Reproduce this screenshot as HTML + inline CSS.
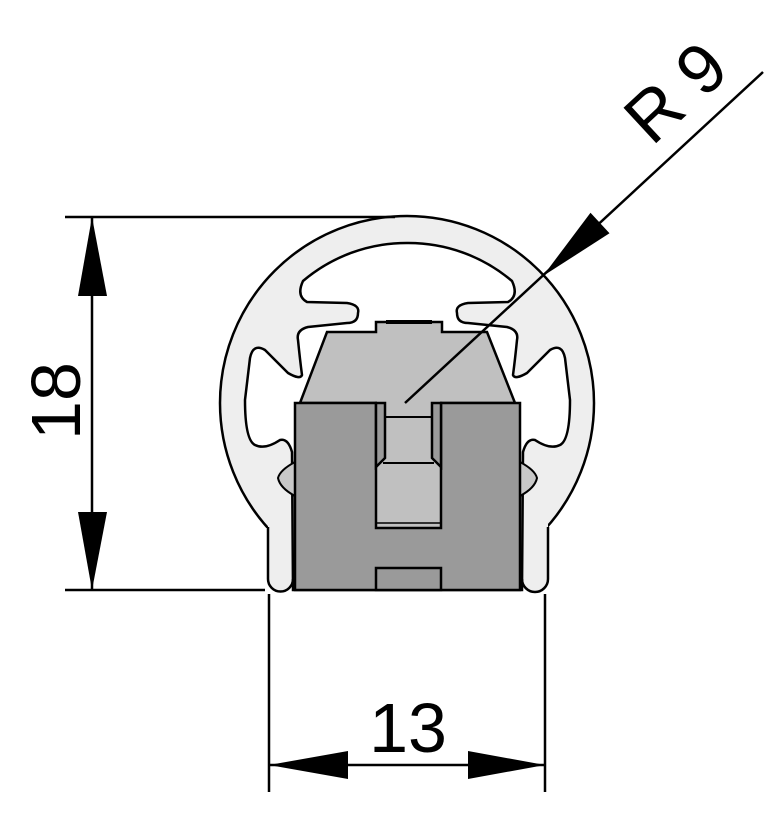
<!DOCTYPE html>
<html><head><meta charset="utf-8"><style>html,body{margin:0;padding:0;background:#fff}svg{display:block}</style></head>
<body>
<svg width="779" height="813" viewBox="0 0 779 813" xmlns="http://www.w3.org/2000/svg" font-family="Liberation Sans, Arial, sans-serif">
<circle cx="407" cy="403" r="187" fill="#eeeeee" stroke="#000" stroke-width="2.5"/>
<rect x="200" y="528" width="410" height="80" fill="#fff"/>
<rect x="268" y="520" width="25" height="60" fill="#eeeeee"/>
<rect x="522" y="520" width="26" height="60" fill="#eeeeee"/>
<circle cx="280.5" cy="579" r="12.5" fill="#eeeeee"/>
<circle cx="535" cy="579" r="13" fill="#eeeeee"/>
<path d="M 407,243 A 160 160 0 0 0 303,281 Q 296,296 307,302 L 347,303 Q 360,305 358,313 Q 358,323 347,323 L 308,327 Q 296,330 298,340 Q 300,360 302,375 Q 300,380 288,373 L 265,350 Q 253,343 250,358 L 245,400 Q 245,440 255,445 Q 265,450 280,440 Q 288,438 292,452 L 293,590 L 522,590 L 523,452 Q 527,438 535,440 Q 550,450 560,445 Q 570,440 570,400 L 565,358 Q 562,343 550,350 L 527,373 Q 515,380 513,375 Q 515,360 517,340 Q 519,330 507,327 L 468,323 Q 457,323 457,313 Q 455,305 468,303 L 508,302 Q 519,296 512,281 A 160 160 0 0 0 407,243 Z" fill="#fff" stroke="#000" stroke-width="2.5"/>
<path d="M268,527 L268,579 A12.5 12.5 0 0 0 293,579" fill="none" stroke="#000" stroke-width="2.5"/>
<path d="M522,579 A13 13 0 0 0 548,579 L548,527" fill="none" stroke="#000" stroke-width="2.5"/>
<path d="M295,462 Q 280,470 278,478 Q 280,488 295,496 Z" fill="#c8c8c8" stroke="#000" stroke-width="2"/>
<path d="M520,462 Q 535,470 537,478 Q 535,488 520,496 Z" fill="#c8c8c8" stroke="#000" stroke-width="2"/>
<path d="M 300,403 L 327,332 L 376,332 L 376,322 L 442,322 L 442,332 L 487,332 L 515,403 Z" fill="#c0c0c0" stroke="#000" stroke-width="2.5"/>
<line x1="386" y1="322" x2="432" y2="322" stroke="#000" stroke-width="4"/>
<rect x="295" y="403" width="225" height="187" fill="#9a9a9a" stroke="#000" stroke-width="2.5"/>
<rect x="377" y="401" width="63" height="5" fill="#c0c0c0"/>
<path d="M376,403 L376,528 L441,528 L441,403" fill="#c0c0c0" stroke="#000" stroke-width="2.5"/>
<path d="M376,403 L385,403 L385,458 L376,467 Z M441,403 L432,403 L432,458 L441,467 Z" fill="#9a9a9a" stroke="#000" stroke-width="2.5"/>
<line x1="385" y1="417" x2="432" y2="417" stroke="#000" stroke-width="2"/>
<line x1="383" y1="463" x2="434" y2="463" stroke="#000" stroke-width="2"/>
<line x1="376" y1="523" x2="441" y2="523" stroke="#000" stroke-width="1.5"/>
<rect x="376" y="568" width="65" height="22" fill="#9a9a9a" stroke="#000" stroke-width="2.5"/>
<g stroke="#000" stroke-width="2.5">
<line x1="65" y1="217" x2="395" y2="217"/>
<line x1="65" y1="590" x2="265" y2="590"/>
<line x1="92" y1="217" x2="92" y2="590"/>
<line x1="269" y1="594" x2="269" y2="792"/>
<line x1="545" y1="594" x2="545" y2="792"/>
<line x1="269" y1="765" x2="545" y2="765"/>
<line x1="405" y1="403" x2="763" y2="72"/>
</g>
<g fill="#000">
<polygon points="92,217 78,296 107,296"/>
<polygon points="92,590 78,512 107,512"/>
<polygon points="269,765 348,751 348,779"/>
<polygon points="545,765 468,751 468,779"/>
<polygon points="543,276 609.5,233.3 590.5,212.7"/>
</g>
<text x="408" y="752" font-size="70" text-anchor="middle">13</text>
<text transform="translate(80,401) rotate(-90)" font-size="70" text-anchor="middle">18</text>
<text transform="translate(692,110) rotate(-42.8)" font-size="70" text-anchor="middle">R 9</text>
</svg>
</body></html>
